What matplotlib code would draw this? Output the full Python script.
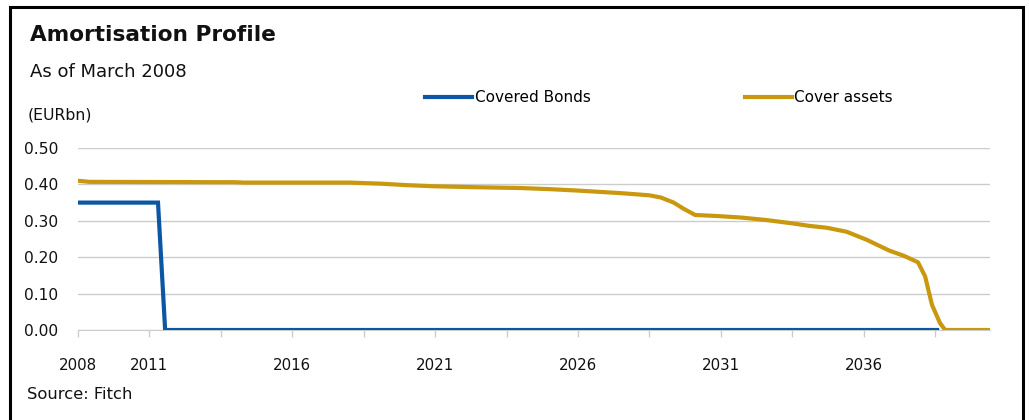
import matplotlib
matplotlib.use("Agg")
import matplotlib.pyplot as plt
from matplotlib.patches import Rectangle

# ---- data ----
bonds_x = [2008.5, 2011.30, 2011.55, 2038.57]
bonds_y = [0.35, 0.35, 0.0, 0.0]

assets_x = [2008.5, 2008.9, 2014.0, 2014.3, 2018.0, 2019.1, 2020.0, 2020.9, 2022.6,
            2024.0, 2025.0, 2026.0, 2027.5, 2028.5, 2028.9, 2029.35, 2029.7, 2030.1,
            2030.9, 2031.7, 2032.6, 2033.5, 2034.1, 2034.7, 2035.4, 2036.1, 2036.9,
            2037.4, 2037.9, 2038.15, 2038.39, 2038.67, 2038.85, 2040.42]
assets_y = [0.410, 0.407, 0.406, 0.405, 0.405, 0.402, 0.398, 0.395, 0.392,
            0.390, 0.387, 0.383, 0.376, 0.370, 0.364, 0.350, 0.333, 0.316,
            0.313, 0.309, 0.302, 0.293, 0.286, 0.281, 0.270, 0.248, 0.218,
            0.204, 0.186, 0.147, 0.069, 0.019, 0.0, 0.0]

x_ticks = [2008.5 + 2.5 * i for i in range(13)]
x_tick_labels = ["2008", "2011", "", "2016", "", "2021", "", "2026", "", "2031", "", "2036", ""]
y_ticks = [0.0, 0.1, 0.2, 0.3, 0.4, 0.5]
y_tick_labels = ["0.00", "0.10", "0.20", "0.30", "0.40", "0.50"]

BLUE = "#0b57a3"
GOLD = "#c9980e"
GRID = "#cccccc"

W, H = 1029, 420
fig = plt.figure(figsize=(W / 100, H / 100), dpi=100)
plt.rcParams["font.family"] = ["DejaVu Sans"]

ax = fig.add_axes([78 / W, 1 - 330 / H, (990 - 78) / W, (330 - 148) / H])
ax.plot(bonds_x, bonds_y, color=BLUE, lw=3.0, label="Covered Bonds", zorder=3,
        solid_joinstyle="miter")
ax.plot(assets_x, assets_y, color=GOLD, lw=3.0, label="Cover assets", zorder=2)

ax.set_xlim(2008.5, 2040.42)
ax.set_ylim(0, 0.5)
ax.set_yticks(y_ticks)
ax.set_yticklabels(y_tick_labels)
ax.set_xticks(x_ticks)
ax.set_xticklabels(x_tick_labels)
ax.yaxis.grid(True, color=GRID, lw=1.0)
ax.set_axisbelow(True)
for s in ["top", "right", "left"]:
    ax.spines[s].set_visible(False)
ax.spines["bottom"].set_color(GRID)
ax.tick_params(axis="y", length=0, pad=14, labelsize=11.2, colors="#111111")
ax.tick_params(axis="x", length=5, width=1, color=GRID, pad=15, labelsize=10.8,
               labelcolor="#111111")

# legend
fig.legend(*ax.get_legend_handles_labels(), loc="center left",
           bbox_to_anchor=(425 / W, 1 - 98 / H), ncol=2, frameon=False,
           borderpad=0, borderaxespad=0, handlelength=3.1, handletextpad=0.15,
           columnspacing=10.1, fontsize=11)

# texts
fig.text(30 / W, 1 - 41 / H, "Amortisation Profile", fontsize=15.6, fontweight="bold",
         va="baseline", ha="left", color="#111111")
fig.text(30 / W, 1 - 77 / H, "As of March 2008", fontsize=13, va="baseline",
         ha="left", color="#111111")
fig.text(28 / W, 1 - 120 / H, "(EURbn)", fontsize=11.3, va="baseline", ha="left",
         color="#111111")
fig.text(27 / W, 1 - 399 / H, "Source: Fitch", fontsize=11.8, va="baseline", ha="left",
         color="#111111")

# outer frame
fig.patches.append(Rectangle((10 / W, -0.05), (1023 - 10) / W, 1 - 7 / H + 0.05,
                             transform=fig.transFigure, fill=False, lw=2.2,
                             edgecolor="black"))

fig.savefig("out.png", dpi=100)
